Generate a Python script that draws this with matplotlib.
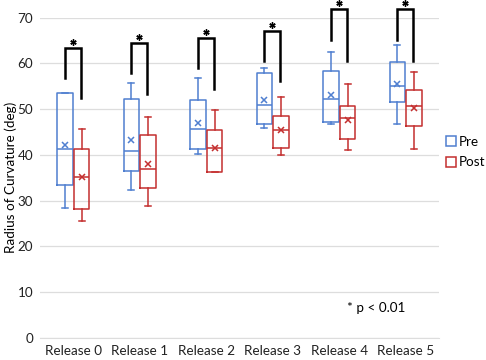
import matplotlib.pyplot as plt
from matplotlib.lines import Line2D

plt.rcParams['font.family'] = ['Lato', 'DejaVu Sans']

# Data
releases = ['Release 0', 'Release 1', 'Release 2', 'Release 3', 'Release 4', 'Release 5']

pre_low = [28.5, 32.3, 40.3, 45.9, 46.7, 46.7]
pre_q1 = [33.4, 36.5, 41.4, 46.7, 47.2, 51.5]
pre_med = [41.3, 40.9, 45.6, 50.9, 52.3, 55.0]
pre_q3 = [53.5, 52.2, 52.1, 58.0, 58.3, 60.2]
pre_high = [53.5, 55.8, 56.9, 59.0, 62.4, 64.1]
pre_mean = [42.1, 43.2, 46.9, 52.0, 53.1, 55.6]

post_low = [25.5, 28.8, 36.3, 39.9, 41.0, 41.4]
post_q1 = [28.2, 32.7, 36.3, 41.5, 43.4, 46.4]
post_med = [35.1, 36.9, 41.6, 45.4, 48.1, 50.7]
post_q3 = [41.4, 44.3, 45.4, 48.5, 50.7, 54.3]
post_high = [45.6, 48.3, 49.9, 52.7, 55.4, 58.2]
post_mean = [35.1, 38.0, 41.6, 45.4, 47.7, 50.3]

# significance brackets: left leg bottom, top, right leg bottom
br_left = [56.8, 57.9, 59.0, 60.5, 65.1, 65.1]
br_top = [63.3, 64.5, 65.6, 67.1, 71.8, 71.8]
br_right = [52.5, 53.4, 54.5, 56.2, 60.5, 60.5]

blue = '#4f7fd0'
red = '#c42f2f'
fs = 9.7

fig = plt.figure(figsize=(4.86, 3.6), dpi=100)
ax = fig.add_axes([0.0823, 0.061, 0.821, 0.890])


def make_stats(low, q1, med, q3, high, mean):
    return [dict(whislo=a, q1=b, med=c, q3=d, whishi=e, mean=f, fliers=[])
            for a, b, c, d, e, f in zip(low, q1, med, q3, high, mean)]


pos = list(range(len(releases)))
for stats, off, col in [(make_stats(pre_low, pre_q1, pre_med, pre_q3, pre_high, pre_mean), -0.125, blue),
                        (make_stats(post_low, post_q1, post_med, post_q3, post_high, post_mean), 0.125, red)]:
    lp = dict(color=col, linewidth=1.1)
    ax.bxp(stats, positions=[p + off for p in pos], widths=0.23, showmeans=True,
           showfliers=False, boxprops=lp, whiskerprops=lp, capprops=lp, medianprops=lp,
           meanprops=dict(marker='x', markeredgecolor=col, markersize=4.5, markeredgewidth=1.1),
           capwidths=0.09, manage_ticks=False)

for p, a, t, b in zip(pos, br_left, br_top, br_right):
    ax.plot([p - 0.125, p - 0.125, p + 0.11, p + 0.11], [a, t, t, b],
            color='black', linewidth=1.8, clip_on=False, solid_joinstyle='miter')
    ax.plot([p - 0.01], [t + 1.3], linestyle='none', marker=(6, 2, 0), markersize=4.5,
            markeredgewidth=1.0, color='black', clip_on=False)

ax.set_xlim(-0.5, 5.5)
ax.set_ylim(0, 70)
ax.set_yticks(range(0, 71, 10))
ax.set_xticks(pos)
ax.set_xticklabels(releases)
ax.tick_params(length=0, labelsize=fs, colors='#222222')
ax.tick_params(axis='y', pad=5)
ax.tick_params(axis='x', pad=5)
ax.grid(axis='y', color='#dddddd', linewidth=0.9)
ax.set_axisbelow(True)
for s in ['top', 'right', 'left']:
    ax.spines[s].set_visible(False)
ax.spines['bottom'].set_color('#dddddd')
ax.set_ylabel('Radius of Curvature (deg)', fontsize=fs)
ax.yaxis.set_label_coords(-0.058, 0.5)

handles = [Line2D([], [], linestyle='none', marker='s', markersize=6.5, markerfacecolor='white',
                  markeredgecolor=blue, markeredgewidth=1.1, label='Pre'),
           Line2D([], [], linestyle='none', marker='s', markersize=6.5, markerfacecolor='white',
                  markeredgecolor=red, markeredgewidth=1.1, label='Post')]
ax.legend(handles=handles, loc='center left', bbox_to_anchor=(1.0, 0.58), frameon=False,
          fontsize=fs, handlelength=0.6, handletextpad=0.25, labelspacing=0.6,
          borderpad=0, borderaxespad=0.6)

ax.text(0.77, 0.08, '* p < 0.01', transform=ax.transAxes, fontsize=fs)

fig.savefig('out.png', dpi=100)
